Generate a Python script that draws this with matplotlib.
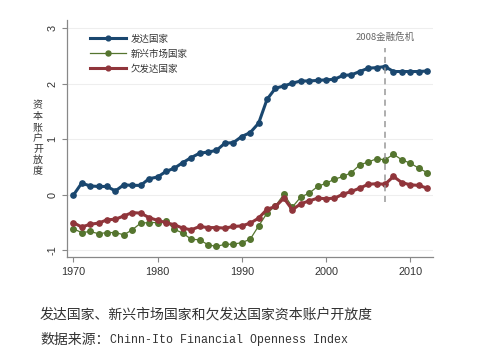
import matplotlib
matplotlib.use("Agg")
import matplotlib.pyplot as plt

plt.rcParams['font.family'] = ['Noto Sans CJK SC', 'DejaVu Sans']

years = list(range(1970, 2013))
developed = [-0.01, 0.21, 0.16, 0.15, 0.15, 0.07, 0.18, 0.17, 0.17, 0.29,
             0.32, 0.42, 0.48, 0.58, 0.67, 0.75, 0.77, 0.80, 0.93, 0.94,
             1.05, 1.12, 1.29, 1.72, 1.92, 1.96, 2.01, 2.05, 2.05, 2.06,
             2.07, 2.08, 2.15, 2.16, 2.22, 2.28, 2.29, 2.31, 2.22, 2.22,
             2.22, 2.22, 2.23]
emerging = [-0.61, -0.68, -0.66, -0.70, -0.68, -0.68, -0.72, -0.63, -0.51, -0.50,
            -0.50, -0.47, -0.62, -0.69, -0.80, -0.81, -0.90, -0.93, -0.89, -0.89,
            -0.86, -0.80, -0.56, -0.33, -0.20, 0.01, -0.22, -0.04, 0.03, 0.15,
            0.21, 0.28, 0.33, 0.40, 0.54, 0.59, 0.65, 0.63, 0.73, 0.63,
            0.57, 0.48, 0.40]
less_dev = [-0.50, -0.58, -0.53, -0.51, -0.45, -0.44, -0.38, -0.32, -0.33, -0.41,
            -0.46, -0.50, -0.54, -0.60, -0.63, -0.57, -0.59, -0.59, -0.60, -0.57,
            -0.56, -0.51, -0.42, -0.26, -0.21, -0.06, -0.27, -0.16, -0.11, -0.06,
            -0.07, -0.06, 0.01, 0.06, 0.12, 0.19, 0.20, 0.19, 0.33, 0.22,
            0.18, 0.17, 0.12]
labels = ['发达国家', '新兴市场国家', '欠发达国家']
ylabel = '资本账户开放度'
crisis_year = 2007

fig = plt.figure(figsize=(4.78, 3.55), dpi=100)
ax = fig.add_axes([0.140, 0.276, 0.766, 0.668])

ax.plot(years, developed, color='#1a476f', lw=2.2, marker='o', ms=3.8, label=labels[0])
ax.plot(years, emerging, color='#55752f', lw=0.9, marker='o', ms=4.0, label=labels[1])
ax.plot(years, less_dev, color='#90353b', lw=2.2, marker='o', ms=3.8, label=labels[2])

ax.vlines(crisis_year, -0.13, 2.65, colors='#999999', linestyles=(0, (4, 3)), lw=1.1)
ax.text(crisis_year, 2.84, '2008金融危机', ha='center', va='center',
        fontsize=6.8, color='#666666')

ax.set_xlim(1969.25, 2012.7)
ax.set_ylim(-1.12, 3.15)
ax.set_xticks([1970, 1980, 1990, 2000, 2010])
ax.set_yticks([-1, 0, 1, 2, 3])
ax.set_yticklabels(['-1', '0', '1', '2', '3'], rotation=90, va='center')
for t in ax.get_xticklabels() + ax.get_yticklabels():
    t.set_family(['Liberation Sans', 'DejaVu Sans'])
ax.tick_params(axis='both', labelsize=7.8, colors='#888888', labelcolor='#333333',
               length=3.5, width=0.8)
ax.grid(axis='y', color='#eeeeee', lw=0.8)
ax.set_axisbelow(True)
for s in ['top', 'right']:
    ax.spines[s].set_visible(False)
for s in ['left', 'bottom']:
    ax.spines[s].set_color('#888888')
    ax.spines[s].set_linewidth(0.9)

# vertical stacked y label, one character at a time
for i, ch in enumerate(ylabel):
    fig.text(38 / 478, 1 - (105 + i * 11) / 355, ch, ha='center', va='center',
             fontsize=7.2, color='#333333')

leg = ax.legend(loc='upper left', bbox_to_anchor=(0.04, 0.975), frameon=False,
                fontsize=6.8, handlelength=3.8, markerscale=0.9, labelspacing=0.6,
                handletextpad=0.5)
for t in leg.get_texts():
    t.set_color('#333333')

fig.text(40 / 478, 1 - 315 / 355, '发达国家、新兴市场国家和欠发达国家资本账户开放度',
         fontsize=10, color='#333333', va='center', ha='left')
fig.text(40 / 478, 1 - 340 / 355, '数据来源：', fontsize=10, color='#333333',
         va='center', ha='left')
fig.text(110 / 478, 1 - 340 / 355, 'Chinn-Ito Financial Openness Index', fontsize=8.4,
         color='#333333', va='center', ha='left', family='Liberation Mono')

fig.savefig('out.png', dpi=100)
